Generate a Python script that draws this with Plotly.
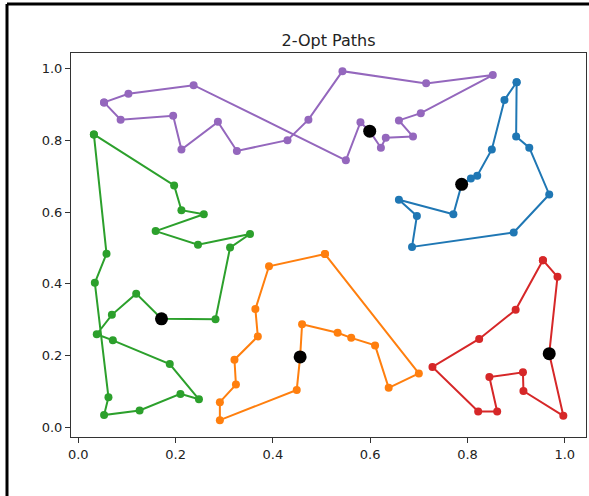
import plotly.graph_objects as go

# Tours (closed loops)
blue_x = [0.901, 0.876, 0.850, 0.820, 0.807, 0.788, 0.771, 0.659, 0.696, 0.686, 0.895, 0.968, 0.927, 0.900]
blue_y = [0.961, 0.912, 0.774, 0.701, 0.693, 0.677, 0.594, 0.634, 0.589, 0.503, 0.543, 0.649, 0.779, 0.810]

orange_x = [0.507, 0.392, 0.364, 0.369, 0.321, 0.324, 0.291, 0.291, 0.449, 0.456, 0.460, 0.533, 0.561, 0.610, 0.638, 0.700]
orange_y = [0.483, 0.449, 0.330, 0.254, 0.189, 0.120, 0.071, 0.021, 0.105, 0.197, 0.288, 0.264, 0.250, 0.229, 0.111, 0.151]

green_x = [0.032, 0.197, 0.212, 0.258, 0.159, 0.246, 0.353, 0.312, 0.282, 0.171, 0.119, 0.069, 0.038, 0.071,
           0.188, 0.248, 0.210, 0.126, 0.053, 0.062, 0.034, 0.058]
green_y = [0.816, 0.674, 0.605, 0.594, 0.547, 0.509, 0.539, 0.501, 0.302, 0.303, 0.373, 0.314, 0.260, 0.243,
           0.177, 0.079, 0.094, 0.048, 0.035, 0.085, 0.403, 0.484]

red_x = [0.955, 0.985, 0.968, 0.997, 0.915, 0.914, 0.845, 0.861, 0.822, 0.728, 0.824, 0.899]
red_y = [0.466, 0.420, 0.206, 0.033, 0.102, 0.154, 0.141, 0.045, 0.045, 0.169, 0.247, 0.328]

purple_x = [0.053, 0.103, 0.237, 0.550, 0.580, 0.599, 0.622, 0.632, 0.688, 0.659, 0.704, 0.852, 0.715, 0.543,
            0.473, 0.430, 0.326, 0.287, 0.212, 0.195, 0.087]
purple_y = [0.905, 0.929, 0.953, 0.744, 0.850, 0.825, 0.779, 0.807, 0.810, 0.855, 0.875, 0.981, 0.958, 0.992,
            0.857, 0.800, 0.770, 0.851, 0.774, 0.868, 0.857]

# Depots (black dots)
depot_x = [0.788, 0.456, 0.171, 0.968, 0.599]
depot_y = [0.677, 0.197, 0.303, 0.206, 0.825]

series = [
    (blue_x, blue_y, "#1f77b4"),
    (orange_x, orange_y, "#ff7f0e"),
    (green_x, green_y, "#2ca02c"),
    (red_x, red_y, "#d62728"),
    (purple_x, purple_y, "#9467bd"),
]

fig = go.Figure()
for xs, ys, c in series:
    fig.add_trace(go.Scatter(
        x=xs + xs[:1], y=ys + ys[:1], mode="lines+markers",
        line=dict(color=c, width=2), marker=dict(color=c, size=8),
        showlegend=False, hoverinfo="skip"))

fig.add_trace(go.Scatter(x=depot_x, y=depot_y, mode="markers",
                         marker=dict(color="black", size=13), showlegend=False, hoverinfo="skip"))

tick_vals = [0.0, 0.2, 0.4, 0.6, 0.8, 1.0]
tick_text = ["0.0", "0.2", "0.4", "0.6", "0.8", "1.0"]

axis_common = dict(showgrid=False, zeroline=False, showline=True, linecolor="#333333", linewidth=1,
                   mirror=True, ticks="outside", ticklen=5, tickwidth=1, tickcolor="#333333",
                   tickvals=tick_vals, ticktext=tick_text,
                   tickfont=dict(family="DejaVu Sans", size=13, color="#222222"))

fig.update_layout(
    width=589, height=496,
    margin=dict(l=71, r=3, t=53, b=59),
    paper_bgcolor="white", plot_bgcolor="white",
    title=dict(text="2-Opt Paths", x=(71 + 586) / 2 / 589, xanchor="center",
               y=1 - 40 / 496, yanchor="middle",
               font=dict(family="DejaVu Sans", size=16, color="#222222")),
    xaxis=dict(range=[-0.015, 1.0436], **axis_common),
    yaxis=dict(range=[-0.0259, 1.0425], **axis_common),
    shapes=[
        dict(type="line", xref="paper", yref="paper", x0=(7 - 71) / 515, x1=(7 - 71) / 515,
             y0=(437 - 4) / 384, y1=(437 - 500) / 384, line=dict(color="black", width=3)),
        dict(type="line", xref="paper", yref="paper", x0=(7 - 71) / 515, x1=(592 - 71) / 515,
             y0=(437 - 4) / 384, y1=(437 - 4) / 384, line=dict(color="black", width=3)),
    ],
)

fig.write_html("out.html", config=dict(displayModeBar=False),
               post_script="document.body.style.margin='0';document.body.style.overflow='hidden';")
